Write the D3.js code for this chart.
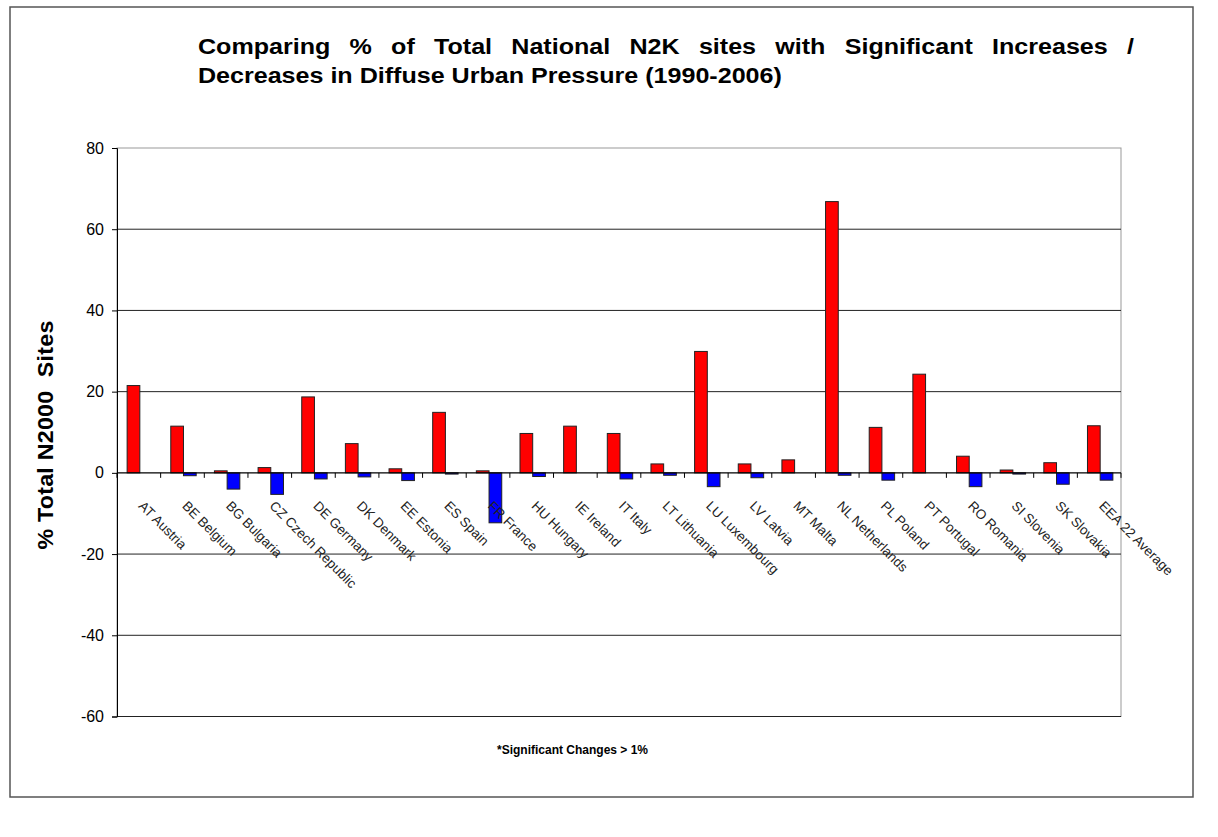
<!DOCTYPE html>
<html>
<head>
<meta charset="utf-8">
<script src="https://cdn.jsdelivr.net/npm/d3@7"></script>
<style>
  body { margin: 0; background: #fff; }
  svg text { font-family: "Liberation Sans", Arial, sans-serif; }
</style>
</head>
<body>
<div id="chart"></div>
<script>
// Country labels
const categories = [
  "AT Austria", "BE Belgium", "BG Bulgaria", "CZ Czech Republic", "DE Germany",
  "DK Denmark", "EE Estonia", "ES Spain", "FR France", "HU Hungary", "IE Ireland",
  "IT Italy", "LT Lithuania", "LU Luxembourg", "LV Latvia", "MT Malta",
  "NL Netherlands", "PL Poland", "PT Portugal", "RO Romania", "SI Slovenia",
  "SK Slovakia", "EEA 22 Average"
];
// % sites with significant increases
const increases = [21.5, 11.5, 0.5, 1.3, 18.7, 7.2, 1.0, 14.9, 0.5, 9.7, 11.5,
  9.7, 2.2, 29.9, 2.2, 3.2, 66.8, 11.2, 24.3, 4.1, 0.7, 2.5, 11.6];
// % sites with significant decreases
const decreases = [0, -0.7, -4.0, -5.3, -1.5, -1.0, -1.9, -0.3, -12.3, -0.9, 0,
  -1.5, -0.6, -3.4, -1.2, 0, -0.6, -1.8, 0, -3.4, -0.3, -2.8, -1.8];
const yTicks = [-60, -40, -20, 0, 20, 40, 60, 80];

const W = 1218, H = 837;
var margin = { top: 148, left: 117, right: 97, bottom: 120 };
var width = W - margin.left - margin.right,
  height = 716.5 - margin.top;

var svg = d3.select("#chart").append("svg")
  .attr("width", W).attr("height", H);

// outer frame
svg.append("rect")
  .attr("x", 10).attr("y", 7).attr("width", 1183).attr("height", 790)
  .attr("fill", "none").attr("stroke", "#555").attr("stroke-width", 1.5);

var g = svg.append("g")
  .attr("transform", "translate(" + margin.left + "," + margin.top + ")");

var x = d3.scaleBand().domain(categories).range([0, width]).paddingInner(0).paddingOuter(0);
var y = d3.scaleLinear().domain([-60, 80]).range([height, 0]);
var bw = 12.7;

// plot border (gray)
g.append("rect")
  .attr("width", width).attr("height", height)
  .attr("fill", "none").attr("stroke", "#999").attr("stroke-width", 1);

// gridlines
g.selectAll(".grid")
  .data(yTicks.filter(d => d !== 0 && d !== 80))
  .enter().append("line")
  .attr("x1", 0).attr("x2", width)
  .attr("y1", d => y(d)).attr("y2", d => y(d))
  .attr("stroke", "#222").attr("stroke-width", 1);

// y axis
var yAxis = g.append("g")
  .call(d3.axisLeft(y).tickValues(yTicks).tickSize(5).tickPadding(8)
    .tickFormat(d => String(d)));
yAxis.select(".domain").attr("stroke", "#000");
yAxis.selectAll("line").attr("stroke", "#000");
yAxis.selectAll("text").style("font-size", "16px").attr("fill", "#000");

// bars
var groups = g.selectAll(".cat")
  .data(categories)
  .enter().append("g")
  .attr("transform", d => "translate(" + (x(d) + x.bandwidth() / 2 + 1) + ",0)");

groups.append("rect")
  .attr("x", -bw)
  .attr("width", bw)
  .attr("y", (d, i) => y(Math.max(0, increases[i])))
  .attr("height", (d, i) => Math.abs(y(increases[i]) - y(0)))
  .attr("fill", "#ff0000").attr("stroke", "#222").attr("stroke-width", 1);

groups.append("rect")
  .attr("x", 0)
  .attr("width", bw)
  .attr("y", y(0))
  .attr("height", (d, i) => Math.abs(y(decreases[i]) - y(0)))
  .attr("fill", "#0000ff").attr("stroke", "#222").attr("stroke-width", 1)
  .style("display", (d, i) => decreases[i] === 0 ? "none" : null);

// x axis at zero
g.append("line")
  .attr("x1", 0).attr("x2", width)
  .attr("y1", y(0)).attr("y2", y(0))
  .attr("stroke", "#000").attr("stroke-width", 1.2);
g.selectAll(".xtick")
  .data(d3.range(categories.length + 1))
  .enter().append("line")
  .attr("x1", i => i * x.step()).attr("x2", i => i * x.step())
  .attr("y1", y(0)).attr("y2", y(0) + 5)
  .attr("stroke", "#000");

// x labels, rotated
g.selectAll(".xlab")
  .data(categories)
  .enter().append("text")
  .attr("transform", d => "translate(" + (x(d) + x.bandwidth() / 2 - 1) + "," + (y(0) + 34) + ") rotate(45)")
  .style("font-size", "13.5px")
  .attr("fill", "#222")
  .text(d => d);

// y label
svg.append("text")
  .attr("transform", "translate(53,435) rotate(-90) scale(1.06,1)")
  .attr("text-anchor", "middle")
  .style("font-size", "22px").style("font-weight", "bold")
  .style("letter-spacing", "0.2px")
  .style("white-space", "pre")
  .text("% Total N2000  Sites");

// title: glyphs stretched wider, first line justified
var sx = 1.14;
var tx0 = 198, tx1 = 1134;
var title = svg.append("g")
  .attr("transform", "translate(" + tx0 + ",0) scale(" + sx + ",1)");
var line1 = "Comparing % of Total National N2K sites with Significant Increases /".split(" ");
var words = title.selectAll(".w")
  .data(line1).enter().append("text")
  .attr("y", 54)
  .style("font-size", "22px").style("font-weight", "bold")
  .text(d => d);
var widths = [];
words.each(function () { widths.push(this.getComputedTextLength()); });
var span = (tx1 - tx0) / sx;
var gap = (span - d3.sum(widths)) / (line1.length - 1);
var cx = 0;
words.attr("x", (d, i) => { var v = cx; cx += widths[i] + gap; return v; });

title.append("text")
  .attr("x", 0).attr("y", 83)
  .style("font-size", "22px").style("font-weight", "bold")
  .text("Decreases in Diffuse Urban Pressure (1990-2006)");

// footnote
svg.append("text")
  .attr("x", 497).attr("y", 754)
  .style("font-size", "12px").style("font-weight", "bold")
  .text("*Significant Changes > 1%");
</script>
</body>
</html>
